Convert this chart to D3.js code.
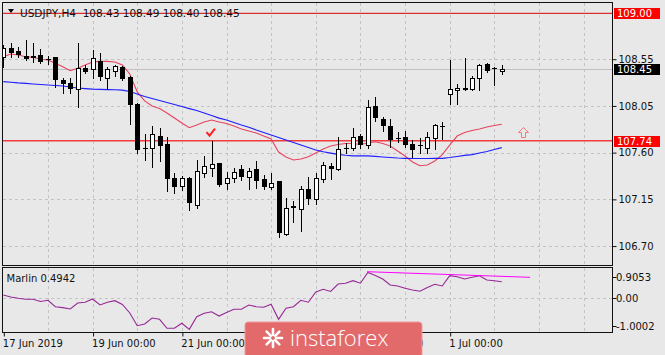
<!DOCTYPE html>
<html>
<head>
<meta charset="utf-8">
<script src="https://cdn.jsdelivr.net/npm/d3@7"></script>
<style>
  body { margin: 0; background: #e8e8e8; }
  svg { display: block; font-family: "DejaVu Sans", sans-serif; }
</style>
</head>
<body>
<div id="chart"></div>
<script>
// USDJPY H4, 17 Jun - 2 Jul 2019
var opens = [108.568,108.660,108.630,108.578,108.578,108.588,108.545,108.565,108.340,108.314,
  108.248,108.456,108.446,108.528,108.357,108.432,108.472,108.373,108.103,107.668,
  107.665,107.786,107.707,107.374,107.295,107.374,107.104,107.423,107.473,107.516,
  107.319,107.374,107.457,107.384,107.460,107.358,107.279,107.341,106.817,107.087,
  107.064,107.262,107.163,107.361,107.490,107.460,107.671,107.671,107.786,107.697,
  108.086,107.955,107.885,107.770,107.780,107.704,107.697,107.665,107.770,107.885,
  108.199,108.241,108.254,108.248,108.363,108.496,108.456,108.43];
var highs = [108.687,108.703,108.670,108.736,108.706,108.644,108.573,108.571,108.357,108.357,
  108.703,108.489,108.637,108.610,108.472,108.489,108.479,108.380,108.110,107.803,
  107.888,107.869,107.780,107.418,107.394,107.384,107.549,107.592,107.737,107.522,
  107.427,107.473,107.500,107.473,107.539,107.401,107.418,107.345,107.170,107.144,
  107.295,107.378,107.418,107.526,107.516,107.774,107.714,107.869,107.803,108.143,
  108.175,107.977,107.955,107.823,107.836,107.747,107.770,107.829,107.902,107.922,
  108.538,108.298,108.555,108.383,108.496,108.506,108.472,108.49];
var lows = [108.469,108.571,108.565,108.538,108.518,108.506,108.494,108.268,108.209,108.209,
  108.070,108.413,108.357,108.340,108.248,108.380,108.340,107.902,107.615,107.549,
  107.483,107.539,107.242,107.220,107.252,107.055,107.077,107.384,107.394,107.295,
  107.262,107.329,107.351,107.262,107.275,107.262,107.262,106.790,106.812,106.933,
  106.850,107.114,107.114,107.334,107.361,107.455,107.615,107.648,107.665,107.665,
  107.935,107.836,107.681,107.724,107.681,107.576,107.615,107.615,107.658,107.757,
  108.100,108.100,108.241,108.241,108.241,108.417,108.291,108.40];
var closes = [108.657,108.604,108.588,108.548,108.553,108.521,108.535,108.340,108.301,108.248,
  108.456,108.422,108.555,108.367,108.449,108.479,108.350,108.093,107.648,107.661,
  107.803,107.691,107.361,107.285,107.368,107.121,107.440,107.490,107.507,107.302,
  107.374,107.433,107.378,107.440,107.341,107.285,107.319,106.830,107.077,107.094,
  107.259,107.163,107.374,107.500,107.457,107.658,107.668,107.780,107.697,108.070,
  107.962,107.888,107.747,107.765,107.697,107.648,107.694,107.780,107.895,107.882,
  108.248,108.264,108.258,108.363,108.489,108.429,108.454,108.45];

// moving averages (red fast, blue slow)
var maFast = [108.571,108.598,108.588,108.571,108.565,108.545,108.538,108.505,108.472,108.432,
  108.456,108.489,108.518,108.525,108.525,108.518,108.489,108.400,108.222,108.133,
  108.083,108.058,108.014,107.964,107.915,107.869,107.895,107.925,107.945,107.925,
  107.910,107.885,107.856,107.836,107.816,107.786,107.757,107.628,107.579,107.549,
  107.559,107.582,107.618,107.658,107.688,107.702,107.712,107.712,107.702,107.717,
  107.730,107.712,107.688,107.638,107.589,107.529,107.493,107.500,107.539,107.603,
  107.697,107.786,107.821,107.841,107.856,107.875,107.890,107.902];
var maSlow = [108.324,108.318,108.311,108.306,108.301,108.296,108.291,108.286,108.281,108.271,
  108.261,108.256,108.251,108.248,108.246,108.244,108.241,108.227,108.202,108.177,
  108.157,108.138,108.118,108.098,108.078,108.058,108.039,108.014,107.989,107.964,
  107.945,107.920,107.895,107.873,107.846,107.821,107.796,107.772,107.747,107.722,
  107.697,107.673,107.648,107.631,107.618,107.605,107.596,107.589,107.589,107.589,
  107.584,107.579,107.574,107.569,107.566,107.564,107.564,107.564,107.566,107.566,
  107.574,107.584,107.594,107.603,107.618,107.633,107.653,107.671];

// Marlin oscillator
var marlin = [0.101,0.042,0.003,-0.024,-0.027,-0.092,-0.056,-0.247,-0.274,-0.315,
  -0.137,-0.116,-0.018,-0.196,-0.113,-0.068,-0.181,-0.434,-0.812,-0.762,
  -0.583,-0.622,-0.890,-0.890,-0.741,-0.920,-0.545,-0.443,-0.396,-0.524,
  -0.420,-0.324,-0.324,-0.196,-0.247,-0.265,-0.175,-0.622,-0.294,-0.247,
  -0.056,-0.113,0.194,0.271,0.206,0.429,0.450,0.527,0.453,0.771,
  0.682,0.578,0.399,0.370,0.304,0.250,0.212,0.325,0.420,0.370,
  0.676,0.646,0.578,0.628,0.673,0.548,0.527,0.4942];
var marlinTrendBars = [48.9, 70.8];
var marlinTrendValues = [0.795, 0.628];

var priceTicks = [108.546, 108.084, 107.622, 107.160, 106.698];
var priceTickLabels = ["108.55", "108.05", "107.60", "107.15", "106.70"];
var marlinTicks = [0.9053, 0, -1.0002];
var marlinTickLabels = ["0.9053", "0.00", "-1.0002"];
var dateTickBars = [0, 12, 24, 36, 48, 60];
var dateTickLabels = ["17 Jun 2019", "19 Jun 00:00", "21 Jun 00:00", "25 Jun 00:00", "27 Jun 00:00", "1 Jul 00:00"];

var levelPrices = [109.00, 107.74];
var levelLabels = ["109.00", "107.74"];
var lastPrice = 108.45;
var lastLabel = "108.45";
var checkBar = 27.85, checkPrice = 107.819;
var arrowBar = 69.9, arrowPrice = 107.878;

var W = 665, H = 355;
var svg = d3.select("#chart").append("svg").attr("width", W).attr("height", H);
svg.append("rect").attr("width", W).attr("height", H).attr("fill", "#e8e8e8");

var plotL = 3, plotR = 612, mainT = 3, mainB = 265, subT = 268, subB = 332;

var x = d3.scaleLinear().domain([0, 60]).range([3.3, 449.7]);
var y = d3.scaleLinear().domain([109.00, 107.74]).range([13.3, 140.7]);
var ym = d3.scaleLinear().domain([0.9053, -1.0002]).range([subT, subB]);

var defs = svg.append("defs");
defs.append("clipPath").attr("id", "clipMain").append("rect")
  .attr("x", plotL).attr("y", mainT).attr("width", plotR - plotL).attr("height", mainB - mainT);
defs.append("clipPath").attr("id", "clipSub").append("rect")
  .attr("x", plotL).attr("y", subT).attr("width", plotR - plotL).attr("height", subB - subT);

var gridBars = d3.range(6, 82, 6);
var gridColor = "#c3c3c3";

// ---- main window ----
var g = svg.append("g").attr("clip-path", "url(#clipMain)");

g.selectAll(".hgrid").data(priceTicks).enter().append("line")
  .attr("x1", plotL).attr("x2", plotR)
  .attr("y1", function (d) { return Math.round(y(d)) + 0.5; })
  .attr("y2", function (d) { return Math.round(y(d)) + 0.5; })
  .attr("stroke", gridColor).attr("stroke-dasharray", "3,3");
g.selectAll(".vgrid").data(gridBars).enter().append("line")
  .attr("x1", function (d) { return Math.round(x(d)) + 0.5; })
  .attr("x2", function (d) { return Math.round(x(d)) + 0.5; })
  .attr("y1", mainT).attr("y2", mainB)
  .attr("stroke", gridColor).attr("stroke-dasharray", "3,3");

// bid line
g.append("line").attr("x1", plotL).attr("x2", plotR)
  .attr("y1", Math.round(y(lastPrice)) + 0.5).attr("y2", Math.round(y(lastPrice)) + 0.5)
  .attr("stroke", "#c0c0c0");

// level lines
g.append("line").attr("x1", plotL).attr("x2", plotR)
  .attr("y1", y(levelPrices[0])).attr("y2", y(levelPrices[0]))
  .attr("stroke", "#d40000").attr("stroke-width", 1);
g.append("line").attr("x1", plotL).attr("x2", plotR)
  .attr("y1", y(levelPrices[1])).attr("y2", y(levelPrices[1]))
  .attr("stroke", "#f23c3c").attr("stroke-width", 1.6);

// moving averages
var lineFast = d3.line().x(function (d, i) { return x(i); }).y(function (d) { return y(d); });
g.append("path").datum(maFast).attr("d", lineFast)
  .attr("fill", "none").attr("stroke", "#e8435f").attr("stroke-width", 1.1);
g.append("path").datum(maSlow).attr("d", lineFast)
  .attr("fill", "none").attr("stroke", "#1f1fff").attr("stroke-width", 1.2);

// candles
var idx = d3.range(opens.length);
var candles = g.selectAll(".candle").data(idx).enter().append("g");
candles.append("line")
  .attr("x1", function (i) { return Math.round(x(i)) + 0.5; })
  .attr("x2", function (i) { return Math.round(x(i)) + 0.5; })
  .attr("y1", function (i) { return Math.round(y(highs[i])); })
  .attr("y2", function (i) { return Math.round(y(lows[i])) + 1; })
  .attr("stroke", "#000");
candles.append("rect")
  .attr("x", function (i) {
    var cx = Math.round(x(i));
    return closes[i] >= opens[i] ? cx - 2 + 0.5 : cx - 2;
  })
  .attr("y", function (i) {
    var top = Math.round(y(Math.max(opens[i], closes[i])));
    return closes[i] >= opens[i] ? top + 0.5 : top;
  })
  .attr("width", function (i) { return closes[i] >= opens[i] ? 4 : 5; })
  .attr("height", function (i) {
    var top = Math.round(y(Math.max(opens[i], closes[i])));
    var bot = Math.round(y(Math.min(opens[i], closes[i])));
    return Math.max(bot - top, 1);
  })
  .attr("fill", function (i) { return closes[i] >= opens[i] ? "#fff" : "#000"; })
  .attr("stroke", function (i) { return closes[i] >= opens[i] ? "#000" : "none"; });

// check mark and arrow
g.append("path")
  .attr("transform", "translate(" + x(checkBar) + "," + y(checkPrice) + ")")
  .attr("d", "M-4,-0.5L-1,3L4.5,-4")
  .attr("fill", "none").attr("stroke", "#ff2020").attr("stroke-width", 2);
g.append("path")
  .attr("transform", "translate(" + (Math.round(x(arrowBar)) + 0.5) + "," + (Math.round(y(arrowPrice)) + 0.5) + ")")
  .attr("d", "M0,0L5,5L2,5L2,10L-2,10L-2,5L-5,5Z")
  .attr("fill", "none").attr("stroke", "#ff7474");

// border
svg.append("rect").attr("x", plotL - 0.5).attr("y", mainT - 0.5)
  .attr("width", plotR - plotL + 1).attr("height", mainB - mainT + 1)
  .attr("fill", "none").attr("stroke", "#111");

// title
svg.append("path").attr("d", "M8,9L14,9L11,13Z").attr("fill", "#000");
svg.append("text").attr("x", 20).attr("y", 16.5).attr("font-size", "10.5px").attr("fill", "#111")
  .attr("xml:space", "preserve")
  .text("USDJPY,H4  108.43 108.49 108.40 108.45");

// price axis
var axisY = d3.axisRight(y).tickValues(priceTicks)
  .tickFormat(function (d, i) { return priceTickLabels[i]; })
  .tickSize(4).tickPadding(2);
var ay = svg.append("g").attr("transform", "translate(" + (plotR + 0.5) + ",0)").call(axisY);
ay.select(".domain").remove();
ay.selectAll("text").attr("font-size", "10px").attr("font-family", "DejaVu Sans").attr("fill", "#111");
ay.selectAll("line").attr("stroke", "#111");

function priceBox(price, label, color) {
  var cy = y(price);
  svg.append("rect").attr("x", 614).attr("y", Math.round(cy) - 5)
    .attr("width", 46).attr("height", 11).attr("fill", color);
  svg.append("text").attr("x", 617).attr("y", Math.round(cy) + 4)
    .attr("font-size", "10px").attr("fill", "#fff").text(label);
}
priceBox(levelPrices[0], levelLabels[0], "#ff0000");
priceBox(lastPrice, lastLabel, "#000");
priceBox(levelPrices[1], levelLabels[1], "#ff0000");

// ---- Marlin window ----
var s = svg.append("g").attr("clip-path", "url(#clipSub)");
s.append("line").attr("x1", plotL).attr("x2", plotR)
  .attr("y1", Math.round(ym(0)) + 0.5).attr("y2", Math.round(ym(0)) + 0.5)
  .attr("stroke", gridColor).attr("stroke-dasharray", "3,3");
s.selectAll(".vgrid").data(gridBars).enter().append("line")
  .attr("x1", function (d) { return Math.round(x(d)) + 0.5; })
  .attr("x2", function (d) { return Math.round(x(d)) + 0.5; })
  .attr("y1", subT).attr("y2", subB)
  .attr("stroke", gridColor).attr("stroke-dasharray", "3,3");

var lineMarlin = d3.line().x(function (d, i) { return x(i); }).y(function (d) { return ym(d); });
s.append("path").datum(marlin).attr("d", lineMarlin)
  .attr("fill", "none").attr("stroke", "#962896").attr("stroke-width", 1.1);
s.append("line")
  .attr("x1", x(marlinTrendBars[0])).attr("y1", ym(marlinTrendValues[0]))
  .attr("x2", x(marlinTrendBars[1])).attr("y2", ym(marlinTrendValues[1]))
  .attr("stroke", "#ff00ff").attr("stroke-width", 1);

svg.append("rect").attr("x", plotL - 0.5).attr("y", subT - 0.5)
  .attr("width", plotR - plotL + 1).attr("height", subB - subT + 1)
  .attr("fill", "none").attr("stroke", "#111");

svg.append("text").attr("x", 6.5).attr("y", 281.5).attr("font-size", "10px").attr("fill", "#111")
  .text("Marlin " + marlin[marlin.length - 1].toFixed(4));

var mLab = svg.append("g");
marlinTicks.forEach(function (v, i) {
  var cy = Math.min(Math.max(ym(v), subT + 9), subB - 6);
  mLab.append("line").attr("x1", plotR + 0.5).attr("x2", plotR + 4.5)
    .attr("y1", Math.round(cy) + 0.5).attr("y2", Math.round(cy) + 0.5).attr("stroke", "#111");
  mLab.append("text").attr("x", 616).attr("y", cy + 4).attr("font-size", "10px").attr("fill", "#111")
    .text(marlinTickLabels[i]);
});

// date axis
var axisX = d3.axisBottom(x).tickValues(dateTickBars)
  .tickFormat(function (d, i) { return dateTickLabels[i]; })
  .tickSize(4).tickPadding(3);
var ax = svg.append("g").attr("transform", "translate(0," + (subB + 0.5) + ")").call(axisX);
ax.select(".domain").remove();
ax.selectAll("line").attr("stroke", "#111").attr("transform", "translate(0.5,0)");
ax.selectAll("text").attr("font-size", "10px").attr("font-family", "DejaVu Sans")
  .attr("fill", "#111").attr("text-anchor", "start").attr("dx", "-1");

// watermark logo
var logo = svg.append("g").attr("transform", "translate(245,322)");
logo.append("rect").attr("width", 177).attr("height", 36).attr("rx", 3)
  .attr("fill", "#e36a6a").attr("stroke", "#ef9a9a");
var burst = logo.append("g").attr("transform", "translate(28,16)");
d3.range(8).forEach(function (k) {
  var a = k * Math.PI / 4;
  burst.append("line")
    .attr("x1", Math.cos(a) * 3).attr("y1", Math.sin(a) * 3)
    .attr("x2", Math.cos(a) * 9).attr("y2", Math.sin(a) * 9)
    .attr("stroke", "#fff").attr("stroke-width", 2.6).attr("stroke-linecap", "round");
});
logo.append("text").attr("x", 45).attr("y", 24).attr("font-family", "Open Sans, sans-serif")
  .attr("font-size", "22px").attr("font-weight", 300).attr("fill", "#fff").text("instaforex");
</script>
</body>
</html>
